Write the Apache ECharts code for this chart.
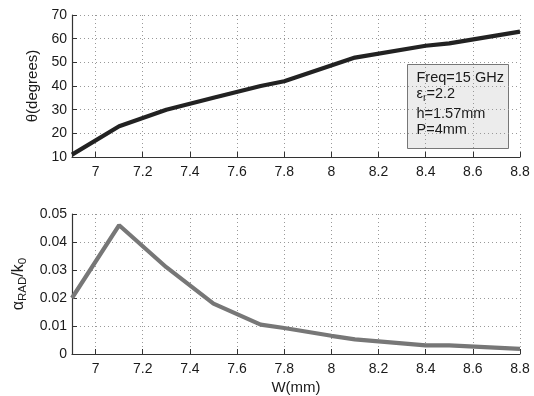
<!DOCTYPE html>
<html><head><meta charset="utf-8">
<script src="https://cdn.jsdelivr.net/npm/echarts@6/dist/echarts.min.js"></script>
<style>html,body{margin:0;padding:0;background:#fff}#c{width:534px;height:396px}</style>
</head><body><div id="c"></div>
<script>
const wTop = [6.9, 7.1, 7.3, 7.5, 7.7, 7.8, 8.1, 8.4, 8.5, 8.8];
const thetaDeg = [11, 23, 30, 35, 40, 42, 52, 57, 58, 63];
const wBot = [6.9, 7.1, 7.3, 7.5, 7.7, 7.8, 8.0, 8.1, 8.4, 8.5, 8.8];
const alphaRad = [0.020, 0.046, 0.031, 0.018, 0.0105, 0.0093, 0.0065, 0.0052, 0.0031, 0.0031, 0.0018];
const xTicks = [7, 7.2, 7.4, 7.6, 7.8, 8, 8.2, 8.4, 8.6, 8.8];
const infoLines = ['Freq=15 GHz', '{e|ε}{s|r}{e|=2.2}', 'h=1.57mm', 'P=4mm'];

const font = 'Liberation Sans, Arial, sans-serif';
const txt = '#1a1a1a';
const chart = echarts.init(document.getElementById('c'));
function xAxisCfg(idx, name) {
  return {
    type: 'value', gridIndex: idx, min: 6.9, max: 8.8,
    name: name || '', nameLocation: 'middle', nameGap: 26,
    nameTextStyle: {color: txt, fontFamily: font, fontSize: 15},
    axisLine: {show: true, lineStyle: {color: '#333', width: 1.2}},
    axisTick: {show: true, inside: true, length: 5, customValues: xTicks, lineStyle: {color: '#333'}},
    axisLabel: {customValues: xTicks, color: txt, fontFamily: font, fontSize: 14, margin: 8,
      formatter: v => String(+v.toFixed(1))},
    splitLine: {show: true, customValues: xTicks, lineStyle: {color: '#999', type: [1, 3], width: 1}}
  };
}
function yAxisCfg(idx, min, max, interval, name, rich) {
  return {
    type: 'value', gridIndex: idx, min, max, interval,
    name, nameLocation: 'middle', nameGap: idx === 0 ? 32 : 42,
    nameTextStyle: Object.assign({color: txt, fontFamily: font, fontSize: 15}, rich ? {rich} : {}),
    axisLine: {show: true, lineStyle: {color: '#333', width: 1.2}},
    axisTick: {show: true, inside: true, length: 5, lineStyle: {color: '#333'}},
    axisLabel: {color: txt, fontFamily: font, fontSize: 14, margin: 5},
    splitLine: {show: true, lineStyle: {color: '#999', type: [1, 3], width: 1}}
  };
}
const option = {
  animation: false,
  grid: [
    {left: 72, right: 14, top: 15, height: 142},
    {left: 72, right: 14, top: 214, height: 142}
  ],
  xAxis: [xAxisCfg(0), xAxisCfg(1, 'W(mm)')],
  yAxis: [
    yAxisCfg(0, 10, 70, 10, 'θ(degrees)'),
    yAxisCfg(1, 0, 0.05, 0.01, '{a|α}{s|RAD}{a|/k}{s|0}', {
      a: {fontFamily: font, fontSize: 16, color: txt},
      s: {fontFamily: font, fontSize: 11.5, color: txt, padding: [9, 0, 0, 0]}
    })
  ],
  series: [
    {type: 'line', xAxisIndex: 0, yAxisIndex: 0, symbol: 'none',
     lineStyle: {color: '#222', width: 4.2}, data: wTop.map((w, i) => [w, thetaDeg[i]])},
    {type: 'line', xAxisIndex: 1, yAxisIndex: 1, symbol: 'none',
     lineStyle: {color: '#777', width: 4.2}, data: wBot.map((w, i) => [w, alphaRad[i]])}
  ],
  graphic: [{
    type: 'group', left: 407, top: 64,
    children: [
      {type: 'rect', shape: {x: 0, y: 0, width: 101, height: 84},
       style: {fill: '#ececec', stroke: '#777', lineWidth: 1}},
      {type: 'text', x: 9, y: 6, style: {text: infoLines[0], fontFamily: font, fontSize: 14.5, fill: txt}},
      {type: 'text', x: 9, y: 19, style: {text: infoLines[1], fontFamily: font, fontSize: 14.5, fill: txt,
        rich: {e: {fontFamily: font, fontSize: 14.5, fill: txt},
               s: {fontFamily: font, fontSize: 10.5, fill: txt, padding: [9, 0, 0, 0]}}}},
      {type: 'text', x: 9, y: 42, style: {text: infoLines[2], fontFamily: font, fontSize: 14.5, fill: txt}},
      {type: 'text', x: 9, y: 58, style: {text: infoLines[3], fontFamily: font, fontSize: 14.5, fill: txt}}
    ]
  }]
};
chart.setOption(option);
</script></body></html>
